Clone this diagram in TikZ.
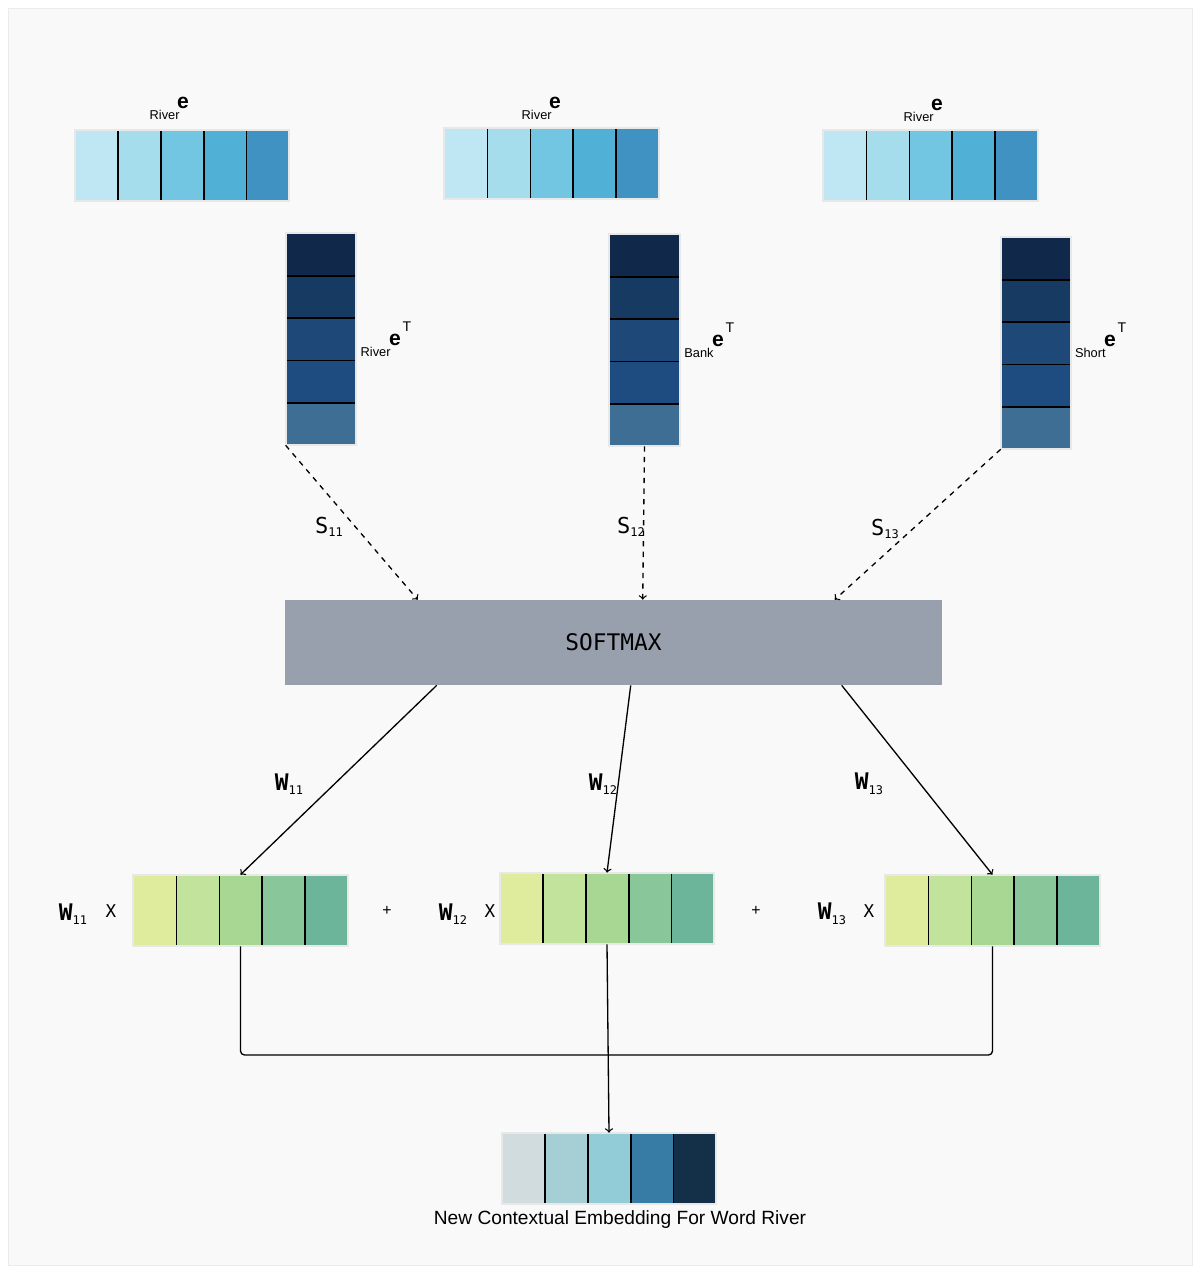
\documentclass[tikz,border=0pt]{standalone}
\usepackage{fontspec}
\setmainfont{Liberation Sans}
\setmonofont{DejaVu Sans Mono}
\usepackage{tikz}
\usetikzlibrary{positioning}
\usetikzlibrary{arrows,shapes}
\usetikzlibrary{calc}
\definecolor{sky1}{HTML}{BEE6F3}
\definecolor{sky2}{HTML}{A5DDED}
\definecolor{sky3}{HTML}{72C6E2}
\definecolor{sky4}{HTML}{50B0D5}
\definecolor{sky5}{HTML}{3F92C2}
\definecolor{navy1}{HTML}{10294A}
\definecolor{navy2}{HTML}{163A62}
\definecolor{navy3}{HTML}{1E4878}
\definecolor{navy4}{HTML}{1F4C80}
\definecolor{navy5}{HTML}{3E6E94}
\definecolor{lime1}{HTML}{DFEC9E}
\definecolor{lime2}{HTML}{C1E39B}
\definecolor{lime3}{HTML}{A8D793}
\definecolor{lime4}{HTML}{89C69A}
\definecolor{lime5}{HTML}{6CB49A}
\definecolor{teal1}{HTML}{D0DCDE}
\definecolor{teal2}{HTML}{A5CFD5}
\definecolor{teal3}{HTML}{92CCD6}
\definecolor{teal4}{HTML}{377CA4}
\definecolor{teal5}{HTML}{143049}
\definecolor{softgray}{HTML}{98A0AE}
\definecolor{paper}{HTML}{F9F9F9}
\newcommand{\lowidx}[2]{\raisebox{-#2}{\fontsize{6.8}{7}\selectfont #1}}
\tikzstyle{hvec}=[rectangle,minimum width=4.28cm,minimum height=1.42cm,inner sep=0pt]
\tikzstyle{vvec}=[rectangle,minimum width=1.4cm,minimum height=4.24cm,inner sep=0pt]
\tikzstyle{hcell}=[rectangle,minimum width=0.856cm,minimum height=1.42cm,inner sep=0pt,anchor=west]
\tikzstyle{vcell}=[rectangle,minimum width=1.4cm,minimum height=0.848cm,inner sep=0pt,anchor=north]
\tikzstyle{divider}=[draw,black,line width=0.9pt]
\tikzstyle{frame}=[draw=black!9,line width=1pt]
\tikzstyle{edge}=[draw,line width=0.75pt,->]
\tikzstyle{dashededge}=[draw,line width=0.75pt,dashed,->]
\tikzstyle{elbl}=[font=\fontsize{12}{13}\selectfont\bfseries,inner sep=0pt]
\tikzstyle{sublbl}=[font=\fontsize{7.3}{8}\selectfont,inner sep=0pt,anchor=east]
\tikzstyle{suplbl}=[font=\fontsize{8}{9}\selectfont,inner sep=0pt]
\tikzstyle{score}=[font=\ttfamily\fontsize{12.5}{14}\selectfont,inner sep=0pt]
\tikzstyle{weight}=[font=\ttfamily\fontsize{13}{14}\selectfont,inner sep=0pt]
\tikzstyle{times}=[font=\ttfamily\fontsize{10}{12}\selectfont,inner sep=0pt]

\begin{document}
\begin{tikzpicture}[x=0.02cm,y=-0.02cm]
    \useasboundingbox (0,0) rectangle (1200,1273);
    \fill[white] (0,0) rectangle (1200,1273);
    \path[draw=black!8,fill=paper] (8,8) rectangle (1192,1265);

    % Horizontal embedding vectors
    \foreach \name/\x/\y/\pal in {top1/182/165.5/sky, top2/551.5/163.5/sky, top3/930.5/165.5/sky,
        g1/240.5/910.5/lime, g2/607/908.5/lime, g3/992.5/910.5/lime, final/609/1168.5/teal} {
        \node[hvec] (\name) at (\x,\y) {};
        \foreach \i in {1,...,5}
            \node[hcell,fill=\pal\i] (\name-\i) at ($(\name.west)+({(\i-1)*42.8},0)$) {};
        \foreach \i in {1,...,4}
            \path[divider] (\name-\i.north east) -- (\name-\i.south east);
        \path[frame] (\name.north west) rectangle (\name.south east);
    }

    % Transposed (vertical) vectors
    \foreach \name/\x/\y in {colr/321/339, colb/644.5/340, cols/1036/343} {
        \node[vvec] (\name) at (\x,\y) {};
        \foreach \i in {1,...,5}
            \node[vcell,fill=navy\i] (\name-\i) at ($(\name.north)+(0,{(\i-1)*42.4})$) {};
        \foreach \i in {1,...,4}
            \path[divider] (\name-\i.south west) -- (\name-\i.south east);
        \path[frame] (\name.north west) rectangle (\name.south east);
    }

    % Labels of the vectors
    \foreach \pos/\name/\word in {{(183,103)/et1/River}, {(555,103)/et2/River}, {(937,105)/et3/River}} {
        \node[elbl] (\name) at \pos {e};
        \node[sublbl] at ($(\name)+(-3,12)$) {\word};
    }
    \foreach \pos/\name/\word in {{(395,340)/ev1/River}, {(718,341)/ev2/Bank}, {(1110,341)/ev3/Short}} {
        \node[elbl] (\name) at \pos {e};
        \node[sublbl] at ($(\name)+(-4,11.5)$) {\word};
        \node[suplbl] at ($(\name)+(12,-13)$) {T};
    }

    % Softmax block
    \node[rectangle,fill=softgray,minimum width=13.14cm,minimum height=1.7cm,inner sep=0pt,
        font=\ttfamily\fontsize{13}{15}\selectfont] (soft) at (613.5,642.5) {SOFTMAX};
    \coordinate (in1) at ($(soft.north west)+(133,0)$);
    \coordinate (in2) at ($(soft.north west)+(358,0)$);
    \coordinate (in3) at ($(soft.north west)+(550,0)$);
    \coordinate (out1) at ($(soft.south west)+(152,0)$);
    \coordinate (out2) at ($(soft.south west)+(346,0)$);
    \coordinate (out3) at ($(soft.south west)+(557,0)$);

    % Scores into softmax
    \path[dashededge] (colr.south west) -- (in1);
    \path[dashededge] (colb.south) -- (in2);
    \path[dashededge] (cols.south west) -- (in3);
    \node[score] (s11) at (329,527) {S\lowidx{11}{2pt}};
    \node[score] (s12) at (631,527) {S\lowidx{12}{2pt}};
    \node[score] (s13) at (885,529) {S\lowidx{13}{2pt}};

    % Weights out of softmax
    \path[edge] (out1) -- (g1.north);
    \path[edge] (out2) -- (g2.north);
    \path[edge] (out3) -- (g3.north);
    \node[weight] (w11) at (289,784) {\textbf{W}\lowidx{11}{2.6pt}};
    \node[weight] (w12) at (603,784) {\textbf{W}\lowidx{12}{2.6pt}};
    \node[weight] (w13) at (869,784) {\textbf{W}\lowidx{13}{2.6pt}};

    % Weighted sum row
    \foreach \pos/\name/\idx in {{(73,914)/m11/11}, {(453,914)/m12/12}, {(832,914)/m13/13}}
        \node[weight] (\name) at \pos {\textbf{W}\lowidx{\idx}{2.6pt}};
    \foreach \pos/\name in {{(111,911)/x1}, {(490,911)/x2}, {(869,911)/x3}}
        \node[times] (\name) at \pos {X};
    \node[font=\fontsize{9}{10}\selectfont] (plus1) at (387,911) {+};
    \node[font=\fontsize{9}{10}\selectfont] (plus2) at (756,911) {+};

    % Collect into the new embedding
    \coordinate (sumline) at (608,1055);
    \draw[line width=0.75pt,rounded corners=0.08cm] (g1.south) |- (sumline) -| (g3.south);
    \path[edge] (g2.south) -- (final.north);
    \node[font=\fontsize{10.9}{12}\selectfont] (caption) at (620,1220) {New Contextual Embedding For Word River};
\end{tikzpicture}
\end{document}
